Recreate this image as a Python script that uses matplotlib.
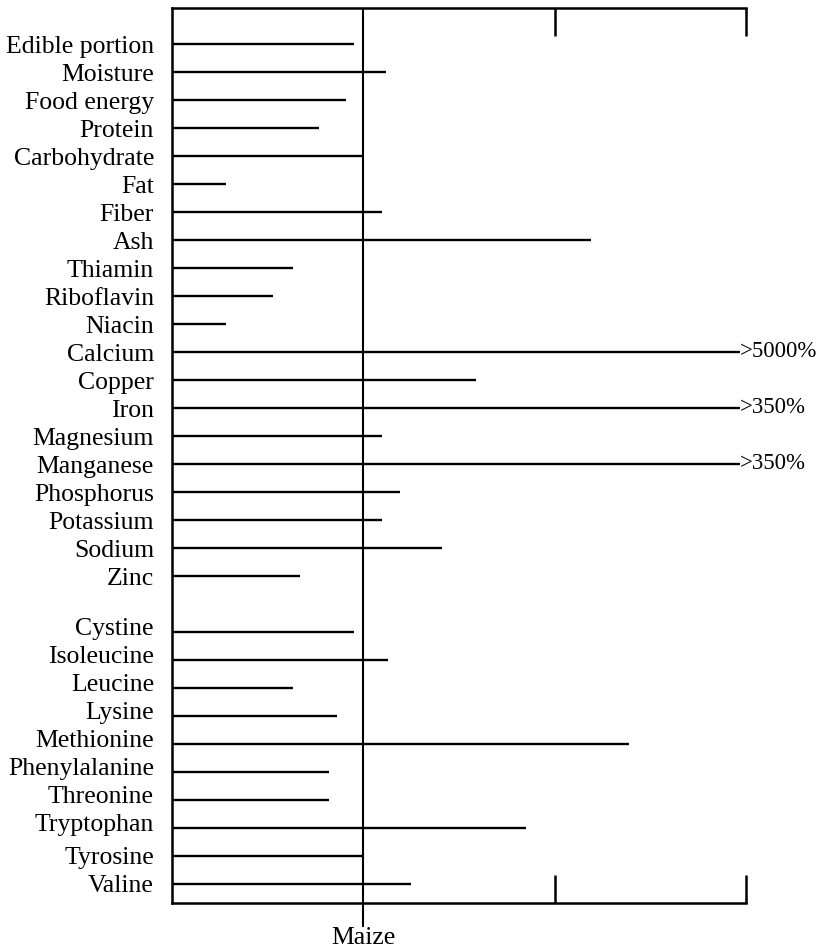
import matplotlib.pyplot as plt
from matplotlib.transforms import ScaledTranslation

plt.switch_backend('Agg')
plt.rcParams['font.family'] = ['Liberation Serif', 'DejaVu Serif']

# nutrients / proximate composition, percent of maize (maize = 100)
nutrients = ['Edible portion', 'Moisture', 'Food energy', 'Protein', 'Carbohydrate',
             'Fat', 'Fiber', 'Ash', 'Thiamin', 'Riboflavin', 'Niacin', 'Calcium',
             'Copper', 'Iron', 'Magnesium', 'Manganese', 'Phosphorus', 'Potassium',
             'Sodium', 'Zinc']
nutrient_vals = [95, 112, 91, 77, 100, 28, 110, 219, 63, 53, 28, 297,
                 159, 297, 110, 297, 119, 110, 141, 67]

# essential amino acids, percent of maize
amino = ['Cystine', 'Isoleucine', 'Leucine', 'Lysine', 'Methionine',
         'Phenylalanine', 'Threonine', 'Tryptophan', 'Tyrosine', 'Valine']
amino_vals = [95, 113, 63, 86, 239, 82, 82, 185, 100, 125]

# values beyond the scale
off_scale = {'Calcium': '>5000%', 'Iron': '>350%', 'Manganese': '>350%'}

labels = nutrients + amino
values = nutrient_vals + amino_vals
rows = list(range(len(nutrients))) + [len(nutrients) + 1 + i for i in range(len(amino))]

fig = plt.figure(figsize=(8.24, 9.48), dpi=100)
ax = fig.add_axes([172 / 824, 1 - 903 / 948, (746 - 172) / 824, (903 - 8) / 948])

ax.hlines(rows, 0, values, color='black', lw=1.7)
for lab, r, v in zip(labels, rows, values):
    if lab in off_scale:
        ax.annotate(off_scale[lab], (v, r), xytext=(0, 1), textcoords='offset pixels',
                    ha='left', va='center', fontsize=16.5, annotation_clip=False)

ax.axvline(100, color='black', lw=1.5)

ax.set_xlim(0, 300)
ax.set_ylim(30.68, -1.29)

ax.set_yticks(rows)
ax.set_yticklabels(labels, fontsize=18.5)
ax.tick_params(axis='y', length=0, pad=13)

# amino acid labels (except the last two) sit a little above their lines
lift = ScaledTranslation(0, 4 / 72, fig.dpi_scale_trans)
for tl in ax.get_yticklabels():
    if tl.get_text() in amino[:-2]:
        tl.set_transform(tl.get_transform() + lift)

ax.set_xticks([100])
ax.set_xticklabels(['Maize'], fontsize=18.5)
ax.set_xticks([200, 300], minor=True)
ax.tick_params(axis='x', which='major', direction='out', length=17, width=1.5,
               bottom=True, top=False, pad=0)
ax.tick_params(axis='x', which='minor', direction='in', length=20, width=1.8,
               bottom=True, top=True)

ax.spines['right'].set_visible(False)
for s in ['left', 'top', 'bottom']:
    ax.spines[s].set_linewidth(1.8)

fig.savefig('out.png', dpi=100)
plt.close(fig)
